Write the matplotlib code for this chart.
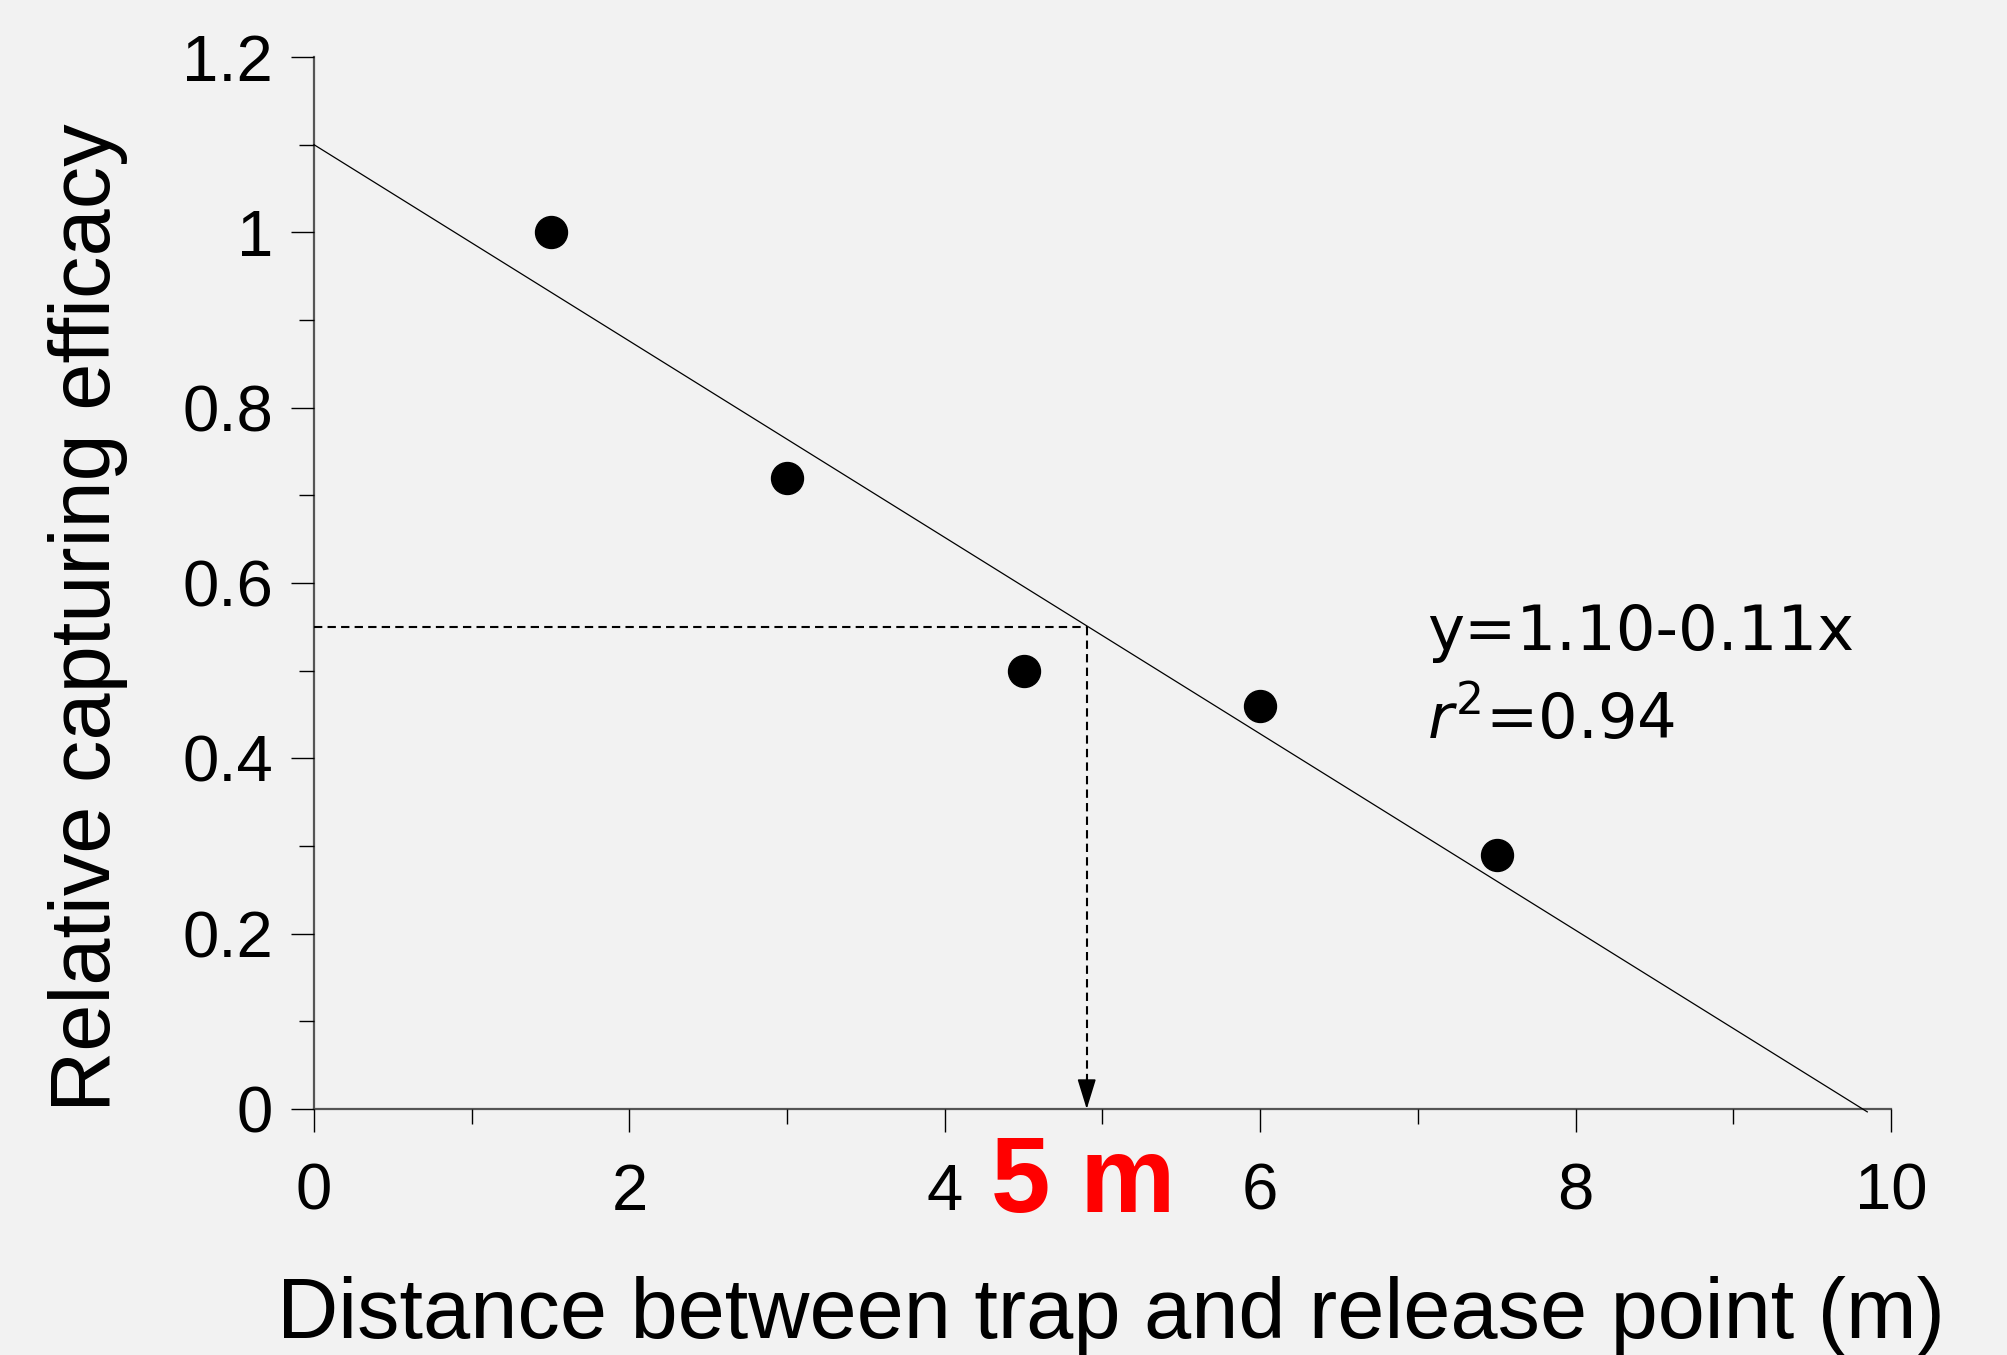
import matplotlib
matplotlib.use("Agg")
import matplotlib.pyplot as plt
from matplotlib.ticker import MultipleLocator, FuncFormatter

# Data
distance = [1.5, 3.0, 4.5, 6.0, 7.5]
efficacy = [1.0, 0.72, 0.50, 0.46, 0.29]
fit_x = [0.0, 9.85]
fit_intercept = 1.10
fit_slope = -0.112
target_y = 0.55
target_x = 4.9
eq_text = "y=1.10-0.11x"
r2_text = "$r^2$=0.94"
x_ticks = [0, 2, 4, 6, 8, 10]
y_ticks = [0, 0.2, 0.4, 0.6, 0.8, 1.0, 1.2]

plt.rcParams['font.family'] = ['Liberation Sans', 'DejaVu Sans']
plt.rcParams['mathtext.fontset'] = 'dejavusans'

bg = '#f2f2f2'
fig = plt.figure(figsize=(20.08, 13.55), dpi=100, facecolor=bg)
ax = fig.add_axes([0.1564, 0.1815, 0.7853, 0.7764])
ax.set_facecolor(bg)

ax.set_xlim(0, 10)
ax.set_ylim(0, 1.2)
for s in ['top', 'right']:
    ax.spines[s].set_visible(False)
for s in ['left', 'bottom']:
    ax.spines[s].set_color('#555555')
    ax.spines[s].set_linewidth(1.6)
    ax.spines[s].set_zorder(1)

ax.set_xticks(x_ticks)
ax.set_yticks(y_ticks)
ax.xaxis.set_minor_locator(MultipleLocator(1))
ax.yaxis.set_minor_locator(MultipleLocator(0.1))
fmt = FuncFormatter(lambda v, p: f"{v:g}")
ax.xaxis.set_major_formatter(fmt)
ax.yaxis.set_major_formatter(fmt)
ax.tick_params(axis='both', which='major', length=16.5, width=1.0, color='black', labelsize=47)
ax.tick_params(axis='both', which='minor', length=11, width=1.0, color='black')
ax.tick_params(axis='x', which='major', pad=22)
ax.tick_params(axis='y', which='major', pad=13)

# regression line
fit_y = [fit_intercept + fit_slope * x for x in fit_x]
ax.plot(fit_x, fit_y, color='black', linewidth=0.9, clip_on=False, zorder=3)

# data points
ax.plot(distance, efficacy, 'o', color='black', markersize=23, zorder=4, clip_on=False)

# dashed guide lines
ax.plot([0, target_x], [target_y, target_y], color='black', linewidth=1.5,
        dashes=(4, 2.5), zorder=3)
ax.plot([target_x, target_x], [target_y, 0.03], color='black', linewidth=1.5,
        dashes=(4, 2.5), zorder=3)
ax.annotate('', xy=(target_x, 0), xytext=(target_x, 0.035),
            arrowprops=dict(arrowstyle='-|>,head_length=0.94,head_width=0.29',
                            mutation_scale=20, color='black', lw=1.2,
                            shrinkA=0, shrinkB=0), zorder=5)

# equation text
ax.text(7.06, 0.5236, eq_text, fontsize=45, family='DejaVu Sans', ha='left', va='baseline')
ax.text(7.06, 0.422, r2_text, fontsize=45, family='DejaVu Sans', ha='left', va='baseline')

# red label
ax.text(target_x - 0.02, -0.117, "5 m", fontsize=77, fontweight='bold', color='red',
        ha='center', va='baseline', clip_on=False)

fig.text(0.5533, 0.0125, "Distance between trap and release point (m)", fontsize=61,
         ha='center', va='baseline')
fig.text(0.0548, 0.5439, "Relative capturing efficacy", fontsize=61, rotation=90,
         rotation_mode='anchor', ha='center', va='baseline')

fig.savefig("out.png", dpi=100, facecolor=bg)
